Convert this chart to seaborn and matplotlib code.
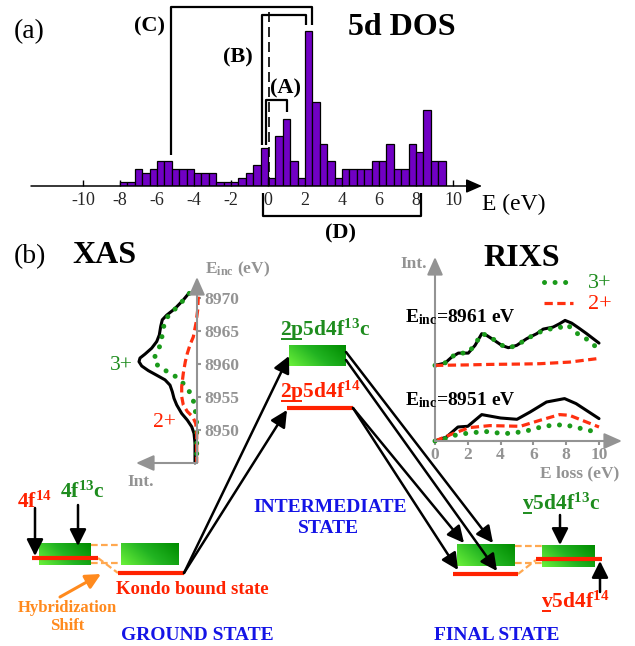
import numpy as np
import pandas as pd
import matplotlib
matplotlib.use('Agg')
import matplotlib.pyplot as plt
import seaborn as sns
from matplotlib.colors import LinearSegmentedColormap

# ---------------- data ----------------
dos_bin_start = -8.0
dos_bin_width = 0.4
dos_heights = [1, 1, 4, 3, 4, 6, 6, 4, 4, 4, 3, 3, 3, 1, 1, 1, 2, 3, 5, 9,
               2, 12, 16, 6, 2, 37, 20, 10, 6, 2, 4, 4, 4, 4, 6, 6, 10, 4, 4, 10,
               8, 18, 6, 6]
dos_ticks = [-10, -8, -6, -4, -2, 0, 2, 4, 6, 8, 10]
dos_tick_labels = ['-10', '-8', '-6', '-4', '-2', '0', '2', '4', '6', '8', '10']

xas_black_E = [8970.8, 8969.7, 8968.4, 8967.4, 8966.7, 8965.7, 8964.4, 8963.4, 8962.4,
               8961.5, 8960.9, 8960.35, 8959.7, 8959.0, 8958.3, 8957.6, 8956.8, 8955.8,
               8954.8, 8953.8, 8952.5, 8951.5, 8950.5, 8949.5, 8948.0, 8945.0]
xas_black_I = [7.7, 13.7, 22, 30.3, 34.7, 36.3, 37.7, 40.3, 45.3, 52, 57, 58, 55.3,
               48.7, 40.3, 32, 27, 24.7, 23, 20.3, 15.3, 9.7, 5.3, 3, 2, 2]
xas_green_E = [8970.7, 8969.55, 8968.2, 8967.1, 8965.9, 8964.55, 8963.1, 8961.9, 8960.6,
               8959.5, 8958.7, 8958.0, 8956.8, 8955.5, 8954.0, 8952.5, 8951.0, 8949.5, 8945.0]
xas_green_I = [7.7, 14.3, 22.7, 29.7, 33, 34.7, 36, 39.7, 43.7, 37.7, 27.7, 20.3, 12,
               6.3, 2.7, 1.3, 0.3, 0.3, 0.3]
xas_red_E = [8970.2, 8968.2, 8966.2, 8964.1, 8962.9, 8961.6, 8960.35, 8958.6, 8956.6,
             8955.05, 8953.8, 8952.8, 8952.0, 8951.0, 8949.5, 8945.0]
xas_red_I = [-1.3, -0.7, 1, 3.7, 7, 9.7, 11.7, 13.7, 15.3, 15.3, 13.7, 9.7, 4.3, 1.3, 0.3, 0.3]
xas_ticks = [8950, 8955, 8960, 8965, 8970]

rixs_ticks = [0, 2, 4, 6, 8, 10]
# E_inc = 8961 eV
r61_black_E = [0, 0.61, 1.02, 1.42, 2.03, 2.44, 2.85, 3.15, 3.56, 4.07, 4.47, 4.98, 5.59,
               6.2, 6.6, 7.2, 7.6, 7.93, 8.33, 8.74, 9.25, 10.0]
r61_black_I = [0, 2.3, 8.3, 12.3, 12.3, 20, 31.7, 30, 25.7, 20, 17.7, 20, 26.7,
               31.7, 36.3, 38.3, 41.7, 45, 42.3, 37.7, 31.7, 22.3]
r61_green_E = [0, 0.6, 1.0, 1.4, 2.0, 2.4, 2.85, 3.2, 3.6, 4.1, 4.5, 5.0, 5.6, 6.2,
               6.6, 7.2, 7.6, 7.9, 8.3, 8.8, 9.4, 9.9]
r61_green_I = [0, 2.3, 8.3, 12.3, 12.3, 20, 31.7, 30, 25.7, 20, 17.7, 20, 26.7, 31.7,
               35, 37, 37.5, 41, 38, 30, 25, 17]
r61_red_E = [0, 2.0, 3.35, 5.0, 6.4, 8.2, 9.86]
r61_red_I = [0, 0.5, 1.0, 1.3, 1.7, 3.3, 6.7]
# E_inc = 8951 eV
r51_black_E = [0, 0.7, 1.4, 2.0, 2.85, 4.0, 5.0, 5.8, 6.8, 7.9, 8.6, 10.0]
r51_black_I = [0, 4, 14, 14.7, 26.4, 23, 21.7, 29, 39, 42.4, 37.4, 22.4]
r51_red_E = [0, 1.1, 2.1, 3.35, 5.2, 6.4, 7.6, 8.2, 10.0]
r51_red_I = [0, 7.4, 13.4, 15.4, 14.7, 20.7, 26.4, 25.7, 14]
r51_green_E = [0, 0.6, 1.2, 1.8, 2.4, 3.0, 3.6, 4.3, 4.9, 5.5, 6.1, 6.7, 7.3, 7.9, 8.5, 9.2, 9.8]
r51_green_I = [0, 2.3, 5.7, 7.4, 8.4, 9.7, 8.4, 7.4, 8.4, 9.7, 12.4, 15, 15.7, 16.4, 14, 11.4, 9]

# ---------------- style ----------------
sns.set_style('white')
plt.rcParams['font.family'] = ['Liberation Serif', 'DejaVu Serif']
plt.rcParams['mathtext.fontset'] = 'custom'
plt.rcParams['mathtext.rm'] = 'Liberation Serif'
plt.rcParams['mathtext.bf'] = 'Liberation Serif:bold'
plt.rcParams['mathtext.it'] = 'Liberation Serif:italic'
plt.rcParams['axes.unicode_minus'] = False

W, H = 635, 646
fig = plt.figure(figsize=(W / 100, H / 100), dpi=100)

PURPLE = '#7100c4'
GREEN = '#1e8c1e'
GREEN_L = '#1a9a1a'
RED = '#ff2200'
BLUE = '#1414e6'
ORANGE = '#ff8a1e'
ORANGE_L = '#ffa850'
GRAY = '#939393'


def add_ax(x0, y0, x1, y1):
    return fig.add_axes([x0 / W, 1 - y1 / H, (x1 - x0) / W, (y1 - y0) / H])


# ---------------- (a) 5d DOS histogram ----------------
axh = add_ax(31, 0, 480, 186)
n_bins = len(dos_heights)
centers = dos_bin_start + dos_bin_width * (np.arange(n_bins) + 0.5)
dos_df = pd.DataFrame({'E': centers, 'h': dos_heights})
sns.histplot(data=dos_df, x='E', weights='h', binwidth=dos_bin_width,
             binrange=(dos_bin_start, dos_bin_start + dos_bin_width * n_bins),
             ax=axh, color=PURPLE, edgecolor='black', linewidth=0.9, alpha=1)
axh.set_xlim(-12.81, 11.46)
axh.set_ylim(0, 186 / 4.2)
for s in ['top', 'right', 'left', 'bottom']:
    axh.spines[s].set_visible(False)
axh.set_xlabel('')
axh.set_ylabel('')
axh.set_yticks([])
axh.set_xticks(dos_ticks)
axh.set_xticklabels(dos_tick_labels)
axh.tick_params(axis='x', direction='in', length=4, width=1, color='black',
                labelsize=13, pad=4, bottom=True)
axh.patch.set_alpha(0)

# ---------------- XAS inset ----------------
axx = add_ax(137, 278, 197, 463)
sns.lineplot(x=xas_black_I, y=xas_black_E, sort=False, estimator=None, ax=axx,
             color='black', lw=2.2, clip_on=False)
sns.lineplot(x=xas_green_I, y=xas_green_E, sort=False, estimator=None, ax=axx,
             color=GREEN_L, lw=3.6, linestyle=(0, (0.01, 2.1)), dash_capstyle='round',
             clip_on=False)
sns.lineplot(x=xas_red_I, y=xas_red_E, sort=False, estimator=None, ax=axx,
             color='#ff3010', lw=2.3, linestyle=(0, (2.6, 1.4)), clip_on=False)
axx.set_xlim(60, 0)
axx.set_ylim(8945.0, 8973.03)
for s in ['top', 'right', 'left', 'bottom']:
    axx.spines[s].set_visible(False)
axx.patch.set_alpha(0)
axx.set_xticks([])
axx.yaxis.tick_right()
axx.set_yticks(xas_ticks)
axx.set_yticklabels([str(t) for t in xas_ticks])
axx.tick_params(axis='y', direction='out', length=3, width=1.5, color=GRAY,
                labelcolor=GRAY, labelsize=12.5, pad=2, right=True, left=False)
for lb in axx.get_yticklabels():
    lb.set_fontweight('bold')
axx.set_xlabel('')
axx.set_ylabel('')

# ---------------- RIXS inset ----------------
axr = add_ax(435, 258, 620, 441)
off = 75.6
sns.lineplot(x=r61_black_E, y=np.array(r61_black_I) + off, sort=False, estimator=None,
             ax=axr, color='black', lw=2.2, clip_on=False)
sns.lineplot(x=r61_green_E, y=np.array(r61_green_I) + off, sort=False, estimator=None,
             ax=axr, color=GREEN_L, lw=3.6, linestyle=(0, (0.01, 2.1)),
             dash_capstyle='round', clip_on=False)
sns.lineplot(x=r61_red_E, y=np.array(r61_red_I) + off, sort=False, estimator=None,
             ax=axr, color='#ff3010', lw=2.3, linestyle=(0, (2.6, 1.4)), clip_on=False)
sns.lineplot(x=r51_black_E, y=r51_black_I, sort=False, estimator=None,
             ax=axr, color='black', lw=2.2, clip_on=False)
sns.lineplot(x=r51_red_E, y=r51_red_I, sort=False, estimator=None,
             ax=axr, color='#ff3010', lw=2.3, linestyle=(0, (2.6, 1.4)), clip_on=False)
sns.lineplot(x=r51_green_E, y=r51_green_I, sort=False, estimator=None,
             ax=axr, color=GREEN_L, lw=3.6, linestyle=(0, (0.01, 2.1)),
             dash_capstyle='round', clip_on=False)
axr.set_xlim(0, 185 / 16.4)
axr.set_ylim(0, 183)
for s in ['top', 'right', 'left', 'bottom']:
    axr.spines[s].set_visible(False)
axr.patch.set_alpha(0)
axr.set_yticks([])
axr.set_xticks(rixs_ticks)
axr.set_xticklabels([str(t) for t in rixs_ticks])
axr.tick_params(axis='x', direction='out', length=3, width=1.5, color=GRAY,
                labelcolor=GRAY, labelsize=12.5, pad=1.5, bottom=True)
for lb in axr.get_xticklabels():
    lb.set_fontweight('bold')
axr.set_xlabel('')
axr.set_ylabel('')

# ---------------- overlay (diagram) ----------------
ov = fig.add_axes([0, 0, 1, 1])
ov.set_xlim(0, W)
ov.set_ylim(H, 0)
ov.axis('off')


def T(x, y, s, size, color='black', weight='bold', ha='left', va='baseline'):
    return ov.text(x, y, s, fontsize=size, color=color, fontweight=weight, ha=ha, va=va)


def line(xs, ys, color='black', lw=1.6, **kw):
    ov.plot(xs, ys, color=color, lw=lw, solid_capstyle='butt', **kw)


def arrow(p0, p1, color='black', lw=1.8, ms=20, hl=0.5, hw=0.25):
    ov.annotate('', xy=p1, xytext=p0,
                arrowprops=dict(arrowstyle='-|>,head_length=%g,head_width=%g' % (hl, hw),
                                color=color, lw=lw, mutation_scale=ms,
                                shrinkA=0, shrinkB=0))


# panel (a) axis and texts
arrow((31, 186), (482, 186), lw=1.1, ms=12, hl=0.8, hw=0.35)
T(14, 38, '(a)', 20, weight='normal')
T(348, 35, '5d DOS', 23)
T(482, 210, 'E (eV)', 17, weight='normal')
# brackets
line([171, 171, 312, 312], [155, 7, 7, 25])
line([262, 262, 306, 306], [145, 15, 15, 25])
line([266, 266, 287, 287], [145, 100, 100, 112])
line([269, 269], [12, 186], lw=1.2, linestyle=(0, (6, 3)))
line([263, 263, 421, 421], [193, 216, 216, 193])
T(134, 31, '(C)', 16)
T(223, 62, '(B)', 16)
T(270, 93, '(A)', 16)
T(325, 238, '(D)', 16)

# panel (b) headers
T(14, 263, '(b)', 20, weight='normal')
T(72, 263, 'XAS', 23)
T(483, 266, 'RIXS', 23)

# XAS inset axes / labels
arrow((197, 463), (197, 277), color=GRAY, lw=1.5, ms=12, hl=0.9, hw=0.4)
arrow((197, 463), (136, 463), color=GRAY, lw=1.5, ms=12, hl=0.9, hw=0.4)
T(205, 273, r'E$_{\mathbf{inc}}$ (eV)', 12.5, color=GRAY)
T(127, 486, 'Int.', 12.5, color=GRAY)
T(110, 370, '3+', 15.5, color=GREEN, weight='normal')
T(153, 427, '2+', 15.5, color=RED, weight='normal')

# RIXS inset axes / labels
arrow((435, 441), (435, 257), color=GRAY, lw=1.5, ms=12, hl=0.9, hw=0.4)
arrow((435, 441), (622, 441), color=GRAY, lw=1.5, ms=12, hl=0.9, hw=0.4)
T(400, 268, 'Int.', 12.5, color=GRAY)
T(540, 477, 'E loss (eV)', 12.5, color=GRAY)
T(405, 322, r'E$_{\mathbf{inc}}$=8961 eV', 14)
T(405, 405, r'E$_{\mathbf{inc}}$=8951 eV', 14)
line([544, 573], [282, 282], color=GREEN_L, lw=3.6, linestyle=(0, (0.01, 2.1)),
     dash_capstyle='round')
line([544, 573], [303, 303], color='#ff3010', lw=2.3, linestyle=(0, (2.6, 1.4)))
T(588, 288, '3+', 16, color=GREEN, weight='normal')
T(588, 309, '2+', 16, color=RED, weight='normal')

# green boxes with gradient
cmap = LinearSegmentedColormap.from_list('gbox', ['#6af03a', '#22b422', '#008c00'])
grad = np.add.outer(np.linspace(0.3, 0.0, 20), np.linspace(0.0, 0.7, 40))


def gbox(x0, y0, x1, y1):
    ov.imshow(grad, cmap=cmap, vmin=0, vmax=1, extent=(x0, x1, y1, y0),
              aspect='auto', origin='upper', zorder=2, interpolation='bilinear')


RL = 3.0  # red level line width
gbox(39, 543, 91, 565)
gbox(121, 543, 179, 565)
gbox(289, 345, 346, 366)
gbox(457, 544, 515, 566)
gbox(542, 545, 595, 567)

# red levels
line([32, 98], [558, 558], color=RED, lw=RL, zorder=3)
line([118, 184], [573, 573], color=RED, lw=RL, zorder=3)
line([287, 353], [408, 408], color=RED, lw=RL, zorder=3)
line([453, 518], [574, 574], color=RED, lw=RL, zorder=3)
line([536, 602], [559, 559], color=RED, lw=RL, zorder=3)

# orange dashed connectors
od = dict(color=ORANGE_L, lw=1.6, linestyle=(0, (3, 1.5)))
line([91, 119], [545, 545], **od)
line([91, 119], [563, 563], **od)
line([98, 118], [558, 573], **od)
line([515, 542], [546, 546], **od)
line([515, 542], [563, 563], **od)
line([518, 536], [574, 560], **od)

# state arrows
arrow((35, 508), (35, 556))
arrow((78, 505), (78, 546))
arrow((560, 515), (560, 545))
arrow((600, 592), (600, 561))
arrow((184, 573), (289, 356))
arrow((184, 573), (287, 410))
arrow((346, 352), (493, 543))
arrow((346, 360), (497, 571))
arrow((353, 408), (464, 543))
arrow((353, 408), (458, 570))
arrow((60, 597), (101, 574), color=ORANGE, lw=2.2, ms=18)

# state labels
renderer = fig.canvas.get_renderer()


def ul_label(x, y, text, prefix, color, size, ul_dy=3):
    ov.text(x, y, text, fontsize=size, color=color, fontweight='bold',
            ha='left', va='baseline')
    t = ov.text(x, y, prefix, fontsize=size, color=color, fontweight='bold',
                ha='left', va='baseline', alpha=0)
    bb = t.get_window_extent(renderer)
    t.remove()
    line([x + 1, x + bb.width - 1], [y + ul_dy, y + ul_dy], color=color, lw=1.4)


T(17, 508, r'4f$^{\mathbf{14}}$', 15.5, color=RED)
T(60, 498, r'4f$^{\mathbf{13}}$c', 15.5, color=GREEN)
ul_label(280, 336, r'2p5d4f$^{\mathbf{13}}$c', '2p', GREEN, 15.5)
ul_label(280, 398, r'2p5d4f$^{\mathbf{14}}$', '2p', RED, 15.5)
ul_label(522, 510, r'v5d4f$^{\mathbf{13}}$c', 'v', GREEN, 15.5)
ul_label(541, 608, r'v5d4f$^{\mathbf{14}}$', 'v', RED, 15.5)
T(116, 594, 'Kondo bound state', 13.5, color=RED)
T(67, 612, 'Hybridization', 12, color=ORANGE, ha='center')
T(67, 630, 'Shift', 12, color=ORANGE, ha='center')
T(197, 640, 'GROUND STATE', 14, color=BLUE, ha='center')
T(330, 512, 'INTERMEDIATE', 14, color=BLUE, ha='center')
T(328, 533, 'STATE', 14, color=BLUE, ha='center')
T(497, 640, 'FINAL STATE', 14, color=BLUE, ha='center')

ov.set_xlim(0, W)
ov.set_ylim(H, 0)
fig.savefig('out.png', dpi=100)
